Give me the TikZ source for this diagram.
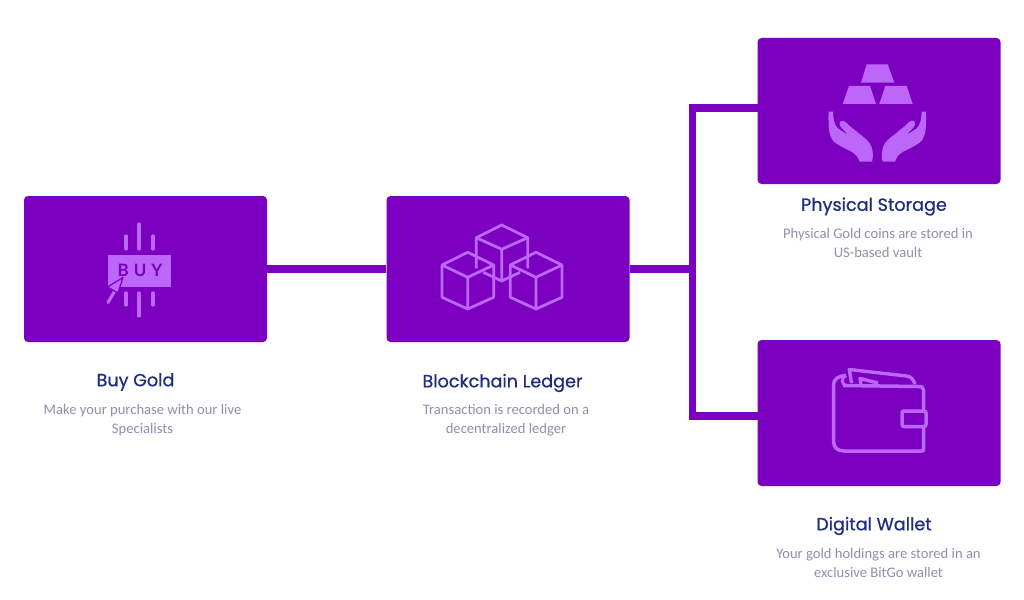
\documentclass[tikz,border=0pt]{standalone}
\usepackage{fontspec}
\setmainfont{Carlito}
\newfontfamily\titlefont[FakeBold=0.7]{Poppins}
\newfontfamily\buyfont{Lato}
\definecolor{boxpurple}{HTML}{7B00BF}
\definecolor{iconpurple}{HTML}{BC66FA}
\definecolor{titleblue}{HTML}{1F2D7E}
\definecolor{bodygrey}{HTML}{8D91AA}
\tikzset{
    step-box/.style = {fill=boxpurple, draw=none, rectangle, rounded corners=4pt, minimum width=243pt, minimum height=146pt, inner sep=0pt},
    step-title/.style = {font=\titlefont\fontsize{17.6}{20}\selectfont, text=titleblue, inner sep=0pt},
    step-text/.style = {font=\fontsize{14.6}{19}\selectfont, text=bodygrey, align=center, inner sep=0pt},
    link/.style = {draw=boxpurple, line width=7.4pt},
    icon-line/.style = {draw=iconpurple, line width=2.8pt, line join=round},
    icon-bar/.style = {draw=iconpurple, line width=3.2pt, line cap=round},
    icon-fill/.style = {fill=iconpurple, draw=none},
    cube/.pic = {
        \draw[icon-line] (0,0) -- (26,12.7) -- (26,45) -- (0,56.7) -- (-25.7,45) -- (-25.7,12.7) -- cycle;
        \draw[icon-line] (-25.7,12.7) -- (0,25) -- (26,12.7) (0,25) -- (0,56.7);
    },
}
\begin{document}
\begin{tikzpicture}[x=1pt,y=-1pt]
\useasboundingbox (0,0) rectangle (1024,599);
\fill[white] (0,0) rectangle (1024,599);
% boxes
\node[step-box] (buybox) at (145.5,269) {};
\node[step-box] (ledgerbox) at (508,269) {};
\node[step-box] (storagebox) at (879,111) {};
\node[step-box] (walletbox) at (879,413) {};
% connectors
\coordinate (junction) at (692.5,269);
\coordinate (storagein) at (758,108);
\coordinate (walletin) at (758,416);
\draw[link] (buybox.east) -- (ledgerbox.west);
\draw[link] (ledgerbox.east) -- (junction);
\draw[link] (storagein) -| (junction) |- (walletin);
% buy icon
\node[icon-fill, minimum width=63pt, minimum height=32pt, inner sep=0pt] (buybutton) at (139.5,271) {};
\node[font=\buyfont\bfseries\fontsize{17}{17}\selectfont, text=boxpurple, inner sep=0pt] (buylabel) at (140,270.5) {B\hspace{5pt}U\hspace{5pt}Y};
\draw[icon-bar] (139,224) -- (139,249) (139,293) -- (139,316);
\draw[icon-bar] (126,236) -- (126,249) (126,293) -- (126,305);
\draw[icon-bar] (153,236) -- (153,249) (153,293) -- (153,305);
\draw[icon-bar] (108,302.5) -- (116,289);
\fill[iconpurple, draw=boxpurple, line width=1.2pt, line join=round] (123,277.5) -- (107.5,287) -- (118,293) -- cycle;
% cubes
\draw[icon-line] (476.3,268.3) -- (476.3,237.7) -- (501.7,225) -- (527.7,237.7) -- (527.7,268.3);
\draw[icon-line] (476.3,237.7) -- (501.7,249.3) -- (527.7,237.7) (501.7,249.3) -- (501.7,281);
\draw[icon-line] (483.3,272.3) -- (501.7,281) -- (520,272.3);
\pic at (467.7,252.3) {cube};
\pic at (536,252.3) {cube};
% bars and hands
\fill[icon-fill] (866.7,64.3) -- (887.7,64.3) -- (894.3,82.7) -- (861,82.7) -- cycle;
\fill[icon-fill] (849,86) -- (870,86) -- (876,104) -- (842.7,104) -- cycle;
\fill[icon-fill] (885.3,86) -- (906.7,86) -- (912.7,104) -- (879.3,104) -- cycle;
\foreach \flip/\shift in {1/0,-1/1754.6}{
    \begin{scope}[xshift=\shift pt, xscale=\flip]
    \fill[icon-fill] (828.5,111.5) -- (833,111.7) .. controls (833,117) and (834,125) .. (838,128.5) -- (848,135)
        -- (840,126) .. controls (838,121) and (842,119) .. (846,122.3)
        .. controls (850,127) and (855,130) .. (859,133.5) .. controls (865,138) and (870,142) .. (871.5,147)
        .. controls (873.5,153) and (873,158) .. (872,161.7)
        -- (859.5,161.7) .. controls (858.5,157) and (855,154) .. (852,152) -- (843,147.5)
        .. controls (837,144) and (833,142) .. (831.5,138.3) .. controls (828,132) and (828.5,122) .. cycle;
    \end{scope}
}
% wallet
\draw[icon-line, line width=3.4pt] (851.5,383) -- (849.3,369.5) -- (906.5,376) .. controls (911,376.5) and (913,379) .. (915,384);
\draw[icon-line, line width=3.4pt] (861,385) -- (860,378.5) -- (878,383);
\draw[icon-line, line width=3.5pt] (843,385.5) -- (918,386.5) .. controls (922,386.5) .. (923.5,390) -- (923.5,449) .. controls (923.5,451) .. (921,451) -- (844,451)
    .. controls (837,451) and (833.5,447) .. (833.5,441) -- (833.5,385) .. controls (833.5,379) and (838,376) .. (846,375.5);
\draw[icon-line, line width=3pt] (846,375.5) .. controls (841,378) and (841,384) .. (846,385.5);
\draw[icon-line, line width=3.5pt, fill=boxpurple, rounded corners=2pt] (902,411) rectangle (926,426.5);
% labels
\node[step-title] (buytitle) at (135.5,382) {Buy Gold};
\node[step-text] (buytext) at (142.5,420) {Make your purchase with our live\\Specialists};
\node[step-title] (ledgertitle) at (502.5,383) {Blockchain Ledger};
\node[step-text] (ledgertext) at (506,420) {Transaction is recorded on a\\decentralized ledger};
\node[step-title] (storagetitle) at (874,206.5) {Physical Storage};
\node[step-text] (storagetext) at (878,243) {Physical Gold coins are stored in\\US-based vault};
\node[step-title] (wallettitle) at (874,526) {Digital Wallet};
\node[step-text] (wallettext) at (878.5,563) {Your gold holdings are stored in an\\exclusive BitGo wallet};
\end{tikzpicture}
\end{document}
